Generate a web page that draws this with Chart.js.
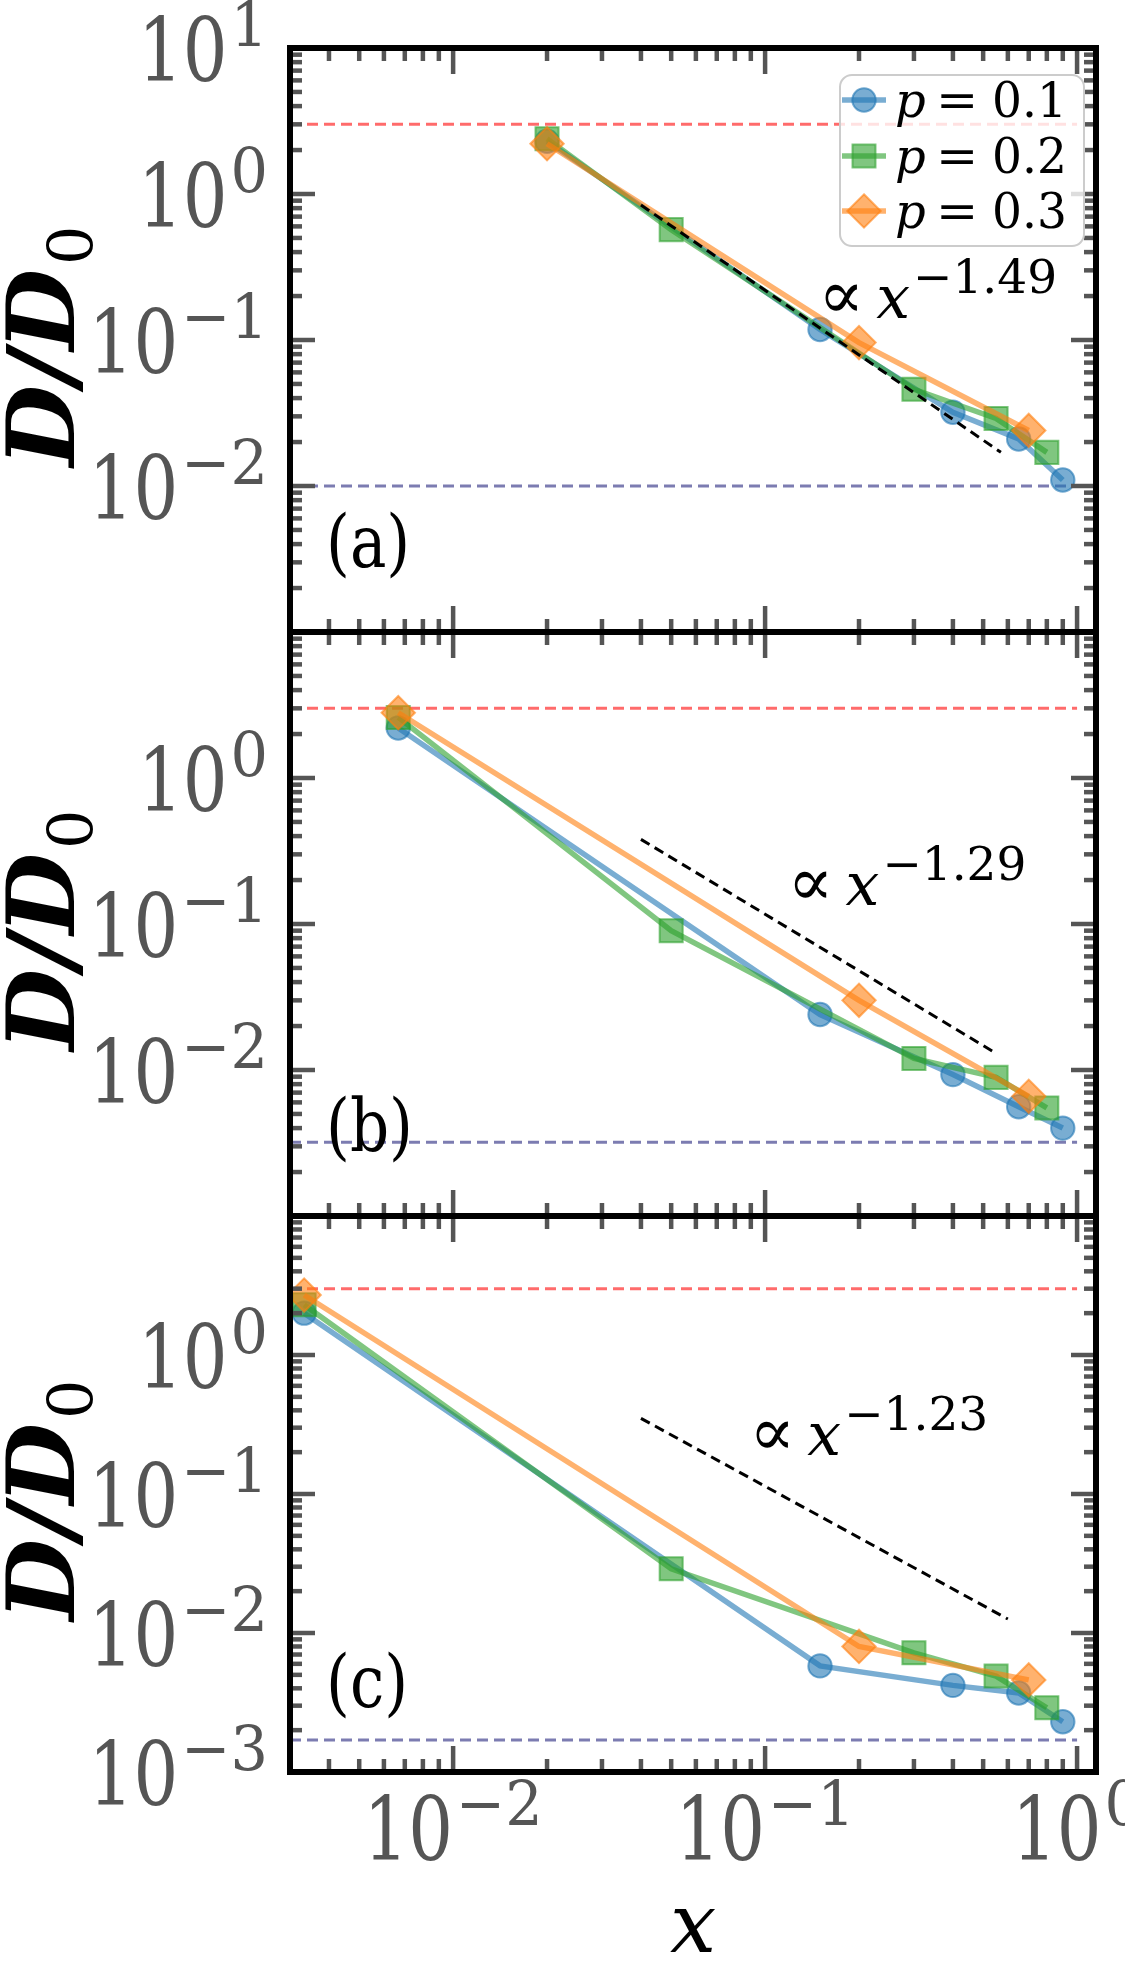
<!DOCTYPE html>
<html><head><meta charset="utf-8">
<script src="https://cdn.jsdelivr.net/npm/chart.js@4.4.1/dist/chart.umd.min.js"></script>
<style>
html,body{margin:0;padding:0;background:#fff;}
#wrap{position:relative;width:1125px;height:1971px;background:#fff;}
canvas{position:absolute;left:0;top:0;}
</style></head><body>
<div id="wrap">
<canvas id="ca" width="1125" height="1971"></canvas>
<canvas id="cb" width="1125" height="1971"></canvas>
<canvas id="cc" width="1125" height="1971"></canvas>
</div>
<script>
// ---------------- data ----------------
const xBlueA = [0.02, 0.15, 0.4, 0.65, 0.9];
const yBlueA = [2.3, 0.118, 0.032, 0.021, 0.011];
const xGreenA = [0.02, 0.05, 0.3, 0.55, 0.8];
const yGreenA = [2.39, 0.57, 0.046, 0.029, 0.017];
const xOrangeA = [0.02, 0.2, 0.7];
const yOrangeA = [2.21, 0.096, 0.024];

const xBlueB = [0.00667, 0.15, 0.4, 0.65, 0.9];
const yBlueB = [2.2, 0.024, 0.0093, 0.0056, 0.0040];
const xGreenB = [0.00667, 0.05, 0.3, 0.55, 0.8];
const yGreenB = [2.6, 0.09, 0.012, 0.0089, 0.0055];
const xOrangeB = [0.00667, 0.2, 0.7];
const yOrangeB = [2.8, 0.030, 0.0066];

const xBlueC = [0.00333, 0.15, 0.4, 0.65, 0.9];
const yBlueC = [2.0, 0.0058, 0.0042, 0.0037, 0.0023];
const xGreenC = [0.00333, 0.05, 0.3, 0.55, 0.8];
const yGreenC = [2.3, 0.029, 0.0072, 0.0049, 0.0029];
const xOrangeC = [0.00333, 0.2, 0.7];
const yOrangeC = [2.7, 0.0080, 0.0046];

const fitXA = [0.04, 0.57], fitYA = [0.84, 0.017];
const fitXB = [0.04, 0.55], fitYB = [0.38, 0.013];
const fitXC = [0.04, 0.60], fitYC = [0.35, 0.0126];

const refX = [0.003, 1.0];
const upperRef = [3.0, 3.0, 3.0];
const lowerRef = [0.01, 0.0032, 0.0017];

const seriesLabels = ['0.1', '0.2', '0.3'];
const fitExponents = ['\u22121.49', '\u22121.29', '\u22121.23'];
const annX = [0.148, 0.118, 0.089];
const annY = [0.142, 0.135, 0.191];
const panelLabels = ['(a)', '(b)', '(c)'];

const xTickValues = [0.01, 0.1, 1];
const xTickExps = ['\u22122', '\u22121', '0'];
const yTickValuesA = [10, 1, 0.1, 0.01];
const yTickExpsA = ['1', '0', '\u22121', '\u22122'];
const yTickValuesB = [1, 0.1, 0.01];
const yTickExpsB = ['0', '\u22121', '\u22122'];
const yTickValuesC = [1, 0.1, 0.01, 0.001];
const yTickExpsC = ['0', '\u22121', '\u22122', '\u22123'];

// ---------------- layout / style ----------------
const W = 1125, H = 1971;
const X_MIN = 0.003, X_MAX = 1.15, Y_MIN = 0.001, Y_MAX = 10;
const PLOT_LEFT = 290, PLOT_RIGHT = 1096;
const PANEL_TOP = [48, 632, 1216];
const PANEL_BOTTOM = [632, 1216, 1772];
const SERIF = `'DejaVu Serif', serif`;

const BLUE = [31,119,180], GREEN = [44,160,44], ORANGE = [255,127,14];
function rgba(c, a){ return `rgba(${c[0]},${c[1]},${c[2]},${a})`; }
function zip(xs, ys){ return xs.map((x, i) => ({x: x, y: ys[i]})); }

function txt(ctx, s, x, y, font, sx) {
  ctx.save(); ctx.font = font; ctx.textAlign = 'left'; ctx.textBaseline = 'alphabetic';
  ctx.translate(x, y); ctx.scale(sx, 1); ctx.fillText(s, 0, 0); ctx.restore();
}
function tw(ctx, s, font, sx) { ctx.save(); ctx.font = font; const w = ctx.measureText(s).width * sx; ctx.restore(); return w; }

function seriesDS(xs, ys, c, style, radius, order) {
  return {
    data: zip(xs, ys), borderColor: rgba(c, 0.6), backgroundColor: rgba(c, 0.6), borderWidth: 5.5,
    pointStyle: style, pointRadius: radius, pointHoverRadius: radius,
    pointBackgroundColor: rgba(c, 0.6), pointBorderColor: rgba(c, 0.6), pointBorderWidth: 2,
    order: order, clip: 3
  };
}
function dashDS(xs, ys, color, width, dash, order) {
  return { data: zip(xs, ys), borderColor: color, borderWidth: width, borderDash: dash,
    pointRadius: 0, pointHoverRadius: 0, order: order, clip: 0 };
}

function logTicks(lo, hi, eLo, eHi) {
  const major = [], minor = [];
  for (let e = eLo; e <= eHi; e++) for (let m = 1; m <= 9; m++) {
    const v = m * Math.pow(10, e);
    if (v < lo * 0.999 || v > hi * 1.001) continue;
    (m === 1 ? major : minor).push(v);
  }
  return {major, minor};
}

const TICK_MAIN = `88px ${SERIF}`, TICK_MAIN_SX = 0.8;
const TICK_SUP = `62px ${SERIF}`, TICK_SUP_SX = 0.95;
function drawPow(ctx, x, baseline, exp, align) {
  const w1 = tw(ctx, '10', TICK_MAIN, TICK_MAIN_SX);
  const w2 = tw(ctx, exp, TICK_SUP, TICK_SUP_SX);
  const gap = 3, tot = w1 + gap + w2;
  const sx = align === 'right' ? x - tot : x - tot / 2;
  txt(ctx, '10', sx, baseline, TICK_MAIN, TICK_MAIN_SX);
  txt(ctx, exp, sx + w1 + gap, baseline - 35, TICK_SUP, TICK_SUP_SX);
}

function makePanel(canvasId, idx, datasets, yTickVals, yTickExps, showX) {
  const axesPlugin = {
    id: 'axes' + idx,
    afterDatasetsDraw(chart) {
      const ctx = chart.ctx, a = chart.chartArea, xs = chart.scales.x, ys = chart.scales.y;
      ctx.save();
      ctx.strokeStyle = '#555'; ctx.lineWidth = 4.5; ctx.lineCap = 'butt';
      const seg = (x1, y1, x2, y2) => { ctx.beginPath(); ctx.moveTo(x1, y1); ctx.lineTo(x2, y2); ctx.stroke(); };
      const xt = logTicks(X_MIN, X_MAX, -3, 0);
      xt.minor.forEach(v => { const p = xs.getPixelForValue(v); if (p < a.left + 3 || p > a.right - 3) return;
        seg(p, a.bottom, p, a.bottom - 13); seg(p, a.top, p, a.top + 13); });
      xt.major.forEach(v => { const p = xs.getPixelForValue(v);
        seg(p, a.bottom, p, a.bottom - 26); seg(p, a.top, p, a.top + 26); });
      const yt = logTicks(Y_MIN, Y_MAX, -3, 1);
      yt.minor.forEach(v => { const p = ys.getPixelForValue(v); if (p < a.top + 3 || p > a.bottom - 3) return;
        seg(a.left, p, a.left + 12, p); seg(a.right, p, a.right - 12, p); });
      yt.major.forEach(v => { const p = ys.getPixelForValue(v); if (p < a.top + 3 || p > a.bottom - 3) return;
        seg(a.left, p, a.left + 25, p); seg(a.right, p, a.right - 25, p); });
      ctx.strokeStyle = '#000'; ctx.lineWidth = 6;
      ctx.strokeRect(a.left, a.top, a.right - a.left, a.bottom - a.top);
      ctx.restore();
    },
    afterDraw(chart) {
      const ctx = chart.ctx, a = chart.chartArea, xs = chart.scales.x, ys = chart.scales.y;
      ctx.save();
      ctx.fillStyle = '#555';
      yTickVals.forEach((v, i) => {
        const p = ys.getPixelForValue(v);
        drawPow(ctx, a.left - 22, p + 33, yTickExps[i], 'right');
      });
      if (showX) {
        xTickValues.forEach((v, i) => {
          const p = xs.getPixelForValue(v);
          drawPow(ctx, p, a.bottom + 88, xTickExps[i], 'center');
        });
        ctx.fillStyle = '#000';
        const fx = `italic 82px ${SERIF}`;
        const wx = tw(ctx, 'x', fx, 1);
        txt(ctx, 'x', (a.left + a.right) / 2 - wx / 2, 1952, fx, 1);
      }
      // y axis label D/D0
      ctx.fillStyle = '#000';
      ctx.save();
      ctx.translate(74, (a.top + a.bottom) / 2 + 6); ctx.rotate(-Math.PI / 2);
      const f1 = `italic bold 94px ${SERIF}`, f2 = `62px ${SERIF}`;
      const w1 = tw(ctx, 'D/D', f1, 1), w2 = tw(ctx, '0', f2, 1);
      const st = -(w1 + w2 + 4) / 2;
      txt(ctx, 'D/D', st, 0, f1, 1);
      txt(ctx, '0', st + w1 + 4, 18, f2, 1);
      ctx.restore();
      // panel label
      txt(ctx, panelLabels[idx], a.left + 36, a.bottom - 65, `72px ${SERIF}`, 0.85);
      // power-law annotation
      const ax = xs.getPixelForValue(annX[idx]), ay = ys.getPixelForValue(annY[idx]);
      const fp = `68px ${SERIF}`;
      txt(ctx, '\u221D', ax, ay, fp, 1.0);
      const wp = tw(ctx, '\u221D', fp, 1.0);
      const fxi = `italic 60px ${SERIF}`;
      txt(ctx, 'x', ax + wp + 12, ay, fxi, 1.0);
      const wxi = tw(ctx, 'x', fxi, 1.0);
      const fs = `47px ${SERIF}`;
      txt(ctx, fitExponents[idx], ax + wp + 12 + wxi + 3, ay - 25, fs, 1.0);
      if (idx === 0) drawLegend(ctx);
      ctx.restore();
    }
  };
  return new Chart(document.getElementById(canvasId), {
    type: 'line',
    data: { datasets: datasets },
    options: {
      responsive: false, animation: false, devicePixelRatio: 1,
      layout: { padding: { left: PLOT_LEFT, right: W - PLOT_RIGHT, top: PANEL_TOP[idx], bottom: H - PANEL_BOTTOM[idx] } },
      plugins: { legend: { display: false }, tooltip: { enabled: false } },
      elements: { line: { tension: 0 } },
      scales: {
        x: { type: 'logarithmic', min: X_MIN, max: X_MAX, bounds: 'data', display: false },
        y: { type: 'logarithmic', min: Y_MIN, max: Y_MAX, bounds: 'data', display: false }
      }
    },
    plugins: [axesPlugin]
  });
}

function drawLegend(ctx) {
  const L = 840, T = 75, R = 1084, B = 246, r = 12;
  ctx.save();
  ctx.beginPath();
  ctx.moveTo(L + r, T); ctx.lineTo(R - r, T); ctx.arcTo(R, T, R, T + r, r);
  ctx.lineTo(R, B - r); ctx.arcTo(R, B, R - r, B, r); ctx.lineTo(L + r, B);
  ctx.arcTo(L, B, L, B - r, r); ctx.lineTo(L, T + r); ctx.arcTo(L, T, L + r, T, r); ctx.closePath();
  ctx.fillStyle = 'rgba(255,255,255,0.8)'; ctx.fill();
  ctx.strokeStyle = '#cccccc'; ctx.lineWidth = 2; ctx.stroke();
  const cols = [BLUE, GREEN, ORANGE];
  const ys = [100, 156, 211];
  const fi = `italic 48px ${SERIF}`, fr = `48px ${SERIF}`;
  cols.forEach((c, i) => {
    const y = ys[i];
    ctx.strokeStyle = rgba(c, 0.6); ctx.lineWidth = 5.5;
    ctx.beginPath(); ctx.moveTo(842, y); ctx.lineTo(886, y); ctx.stroke();
    ctx.fillStyle = rgba(c, 0.6); ctx.lineWidth = 2; ctx.beginPath();
    const mx = 864;
    if (i === 0) ctx.arc(mx, y, 11.7, 0, Math.PI * 2);
    else if (i === 1) ctx.rect(mx - 11.5, y - 11.5, 23, 23);
    else { ctx.moveTo(mx, y - 16.7); ctx.lineTo(mx + 16.7, y); ctx.lineTo(mx, y + 16.7); ctx.lineTo(mx - 16.7, y); ctx.closePath(); }
    ctx.fill(); ctx.stroke();
    ctx.fillStyle = '#000';
    txt(ctx, 'p', 895, y + 17, fi, 1.0);
    txt(ctx, '=', 936, y + 17, fr, 1.05);
    txt(ctx, seriesLabels[i], 992, y + 17, fr, 0.98);
  });
  ctx.restore();
}

function panelDatasets(i, xb, yb, xg, yg, xo, yo, fx, fy) {
  return [
    dashDS(refX, [upperRef[i], upperRef[i]], 'rgba(255,0,0,0.58)', 3, [11, 6], 10),
    dashDS(refX, [lowerRef[i], lowerRef[i]], 'rgba(30,30,120,0.58)', 3, [11, 6], 10),
    seriesDS(xb, yb, BLUE, 'circle', 11.7, 3),
    seriesDS(xg, yg, GREEN, 'rect', 16.3, 2),
    seriesDS(xo, yo, ORANGE, 'rectRot', 16.7, 1),
    dashDS(fx, fy, '#000', 3, [10, 6], 0)
  ];
}

makePanel('ca', 0, panelDatasets(0, xBlueA, yBlueA, xGreenA, yGreenA, xOrangeA, yOrangeA, fitXA, fitYA), yTickValuesA, yTickExpsA, false);
makePanel('cb', 1, panelDatasets(1, xBlueB, yBlueB, xGreenB, yGreenB, xOrangeB, yOrangeB, fitXB, fitYB), yTickValuesB, yTickExpsB, false);
makePanel('cc', 2, panelDatasets(2, xBlueC, yBlueC, xGreenC, yGreenC, xOrangeC, yOrangeC, fitXC, fitYC), yTickValuesC, yTickExpsC, true);
</script>
</body></html>
